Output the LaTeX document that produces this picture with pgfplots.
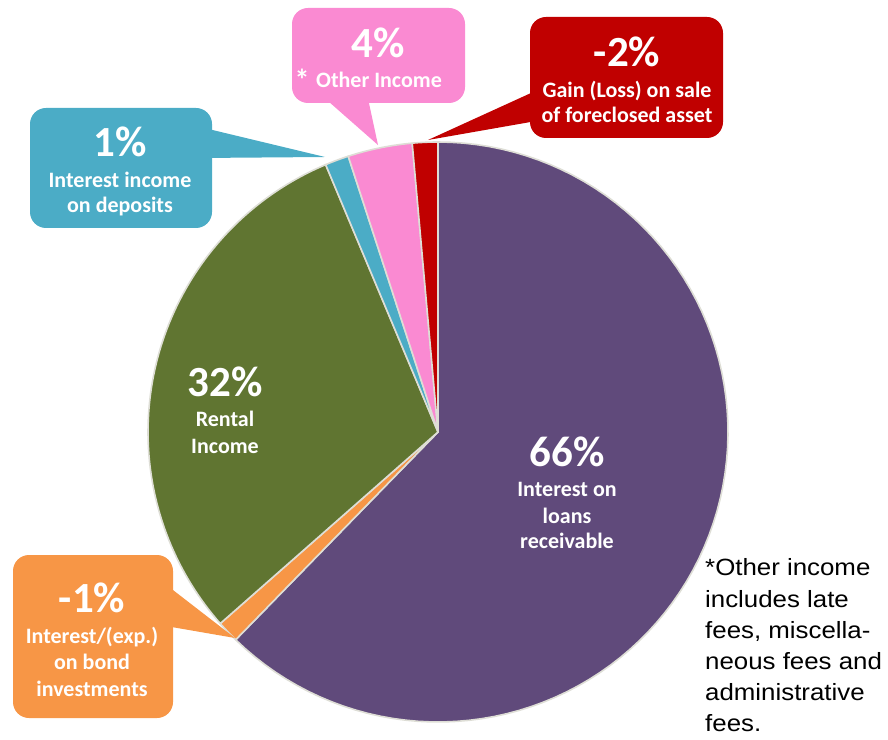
\documentclass[border=0pt]{standalone}
\usepackage{pgfplots}
\pgfplotsset{compat=1.18}
\usepackage{pgfplotstable}
\usepackage{fontspec}
\setmainfont{Carlito}
\newfontfamily\notefont{Liberation Sans}[FakeStretch=1.1]

\definecolor{cPurple}{RGB}{96,74,123}
\definecolor{cOrange}{RGB}{247,150,70}
\definecolor{cGreen}{RGB}{96,117,49}
\definecolor{cBlue}{RGB}{75,172,198}
\definecolor{cPink}{RGB}{250,138,210}
\definecolor{cRed}{RGB}{192,0,0}
\definecolor{cEdge}{RGB}{222,222,214}

% slice sizes (absolute shares), clockwise from 12 o'clock
\pgfplotstableread{
part       value
loans      65.9
bonds      1.3
rental     31.9
deposits   1.4
other      3.8
foreclosed 1.5
}\piedata

\newcommand\bigpct{\fontsize{43}{46}\selectfont\bfseries}
\newcommand\sublbl{\fontsize{22}{26}\selectfont\bfseries}
\newcommand\notesz{\notefont\fontsize{23.5}{28}\selectfont}

% start angle, end angle, colour
\newcommand\pieslice[3]{%
  \addplot[fill=#3, draw=cEdge, line width=1.6pt, line join=round,
    domain=#1:#2, samples=90]
    ({438+290*cos(x)},{307+290*sin(x)}) -- (axis cs:438,307) -- cycle;
}

\begin{document}
\begin{tikzpicture}
\pgfplotstablegetelem{0}{value}\of\piedata \let\va\pgfplotsretval
\pgfplotstablegetelem{1}{value}\of\piedata \let\vb\pgfplotsretval
\pgfplotstablegetelem{2}{value}\of\piedata \let\vc\pgfplotsretval
\pgfplotstablegetelem{3}{value}\of\piedata \let\vd\pgfplotsretval
\pgfplotstablegetelem{4}{value}\of\piedata \let\ve\pgfplotsretval
\pgfplotstablegetelem{5}{value}\of\piedata \let\vf\pgfplotsretval
\pgfmathsetmacro\total{\va+\vb+\vc+\vd+\ve+\vf}
\pgfmathsetmacro\aA{90}
\pgfmathsetmacro\aB{\aA-\va/\total*360}
\pgfmathsetmacro\aC{\aB-\vb/\total*360}
\pgfmathsetmacro\aD{\aC-\vc/\total*360}
\pgfmathsetmacro\aE{\aD-\vd/\total*360}
\pgfmathsetmacro\aF{\aE-\ve/\total*360}
\pgfmathsetmacro\aG{\aF-\vf/\total*360}
\begin{axis}[
    hide axis,
    scale only axis,
    width=888pt,
    height=739pt,
    xmin=0, xmax=888,
    ymin=0, ymax=739,
    clip=false,
    ]
\pieslice{\aB}{\aA}{cPurple}
\pieslice{\aC}{\aB}{cOrange}
\pieslice{\aD}{\aC}{cGreen}
\pieslice{\aE}{\aD}{cBlue}
\pieslice{\aF}{\aE}{cPink}
\pieslice{\aG}{\aF}{cRed}

% callouts
\fill[cBlue, rounded corners=16pt] (axis cs:30,631) rectangle (axis cs:212,511);
\fill[cBlue] (axis cs:200,612) -- (axis cs:325,582) -- (axis cs:200,581) -- cycle;
\fill[cPink, rounded corners=16pt] (axis cs:292,731) rectangle (axis cs:465,636);
\fill[cPink] (axis cs:320,645) -- (axis cs:378,594) -- (axis cs:367,645) -- cycle;
\fill[cRed, rounded corners=16pt] (axis cs:530,722) rectangle (axis cs:723,601);
\fill[cRed] (axis cs:542,651) -- (axis cs:428,599) -- (axis cs:542,619) -- cycle;
\fill[cOrange, rounded corners=16pt] (axis cs:13,184) rectangle (axis cs:173,21);
\fill[cOrange] (axis cs:160,159) -- (axis cs:235,101) -- (axis cs:160,114) -- cycle;

\begin{scope}[every node/.style={text=white, inner sep=0pt, anchor=base}]
\node at (axis cs:120,582) {\bigpct 1\%};
\node at (axis cs:120,551) {\sublbl Interest income};
\node at (axis cs:120,526) {\sublbl on deposits};
\node at (axis cs:378,681) {\bigpct 4\%};
\node at (axis cs:302,648) {\fontsize{30}{30}\selectfont\bfseries *};
\node at (axis cs:379,651) {\sublbl Other Income};
\node at (axis cs:627,672) {\bigpct -2\%};
\node at (axis cs:627,641) {\sublbl Gain (Loss) on sale};
\node at (axis cs:627,616) {\sublbl of foreclosed asset};
\node at (axis cs:92,127) {\bigpct -1\%};
\node at (axis cs:92,96) {\sublbl Interest/(exp.)};
\node at (axis cs:92,70) {\sublbl on bond};
\node at (axis cs:92,43) {\sublbl investments};
\node at (axis cs:225,342) {\bigpct 32\%};
\node at (axis cs:225,312) {\sublbl Rental};
\node at (axis cs:225,285) {\sublbl Income};
\node at (axis cs:567,272) {\bigpct 66\%};
\node at (axis cs:567,242) {\sublbl Interest on};
\node at (axis cs:567,215) {\sublbl loans};
\node at (axis cs:567,190) {\sublbl receivable};
\end{scope}

\begin{scope}[every node/.style={text=black, inner sep=0pt, anchor=base west}]
\node at (axis cs:705,164) {\notesz *Other income};
\node at (axis cs:705,132) {\notesz includes late};
\node at (axis cs:705,101) {\notesz fees, miscella-};
\node at (axis cs:705,70) {\notesz neous fees and};
\node at (axis cs:705,39) {\notesz administrative};
\node at (axis cs:705,8) {\notesz fees.};
\end{scope}
\end{axis}
\pgfresetboundingbox
\useasboundingbox (current axis.south west) rectangle (current axis.north east);
\end{tikzpicture}
\end{document}
